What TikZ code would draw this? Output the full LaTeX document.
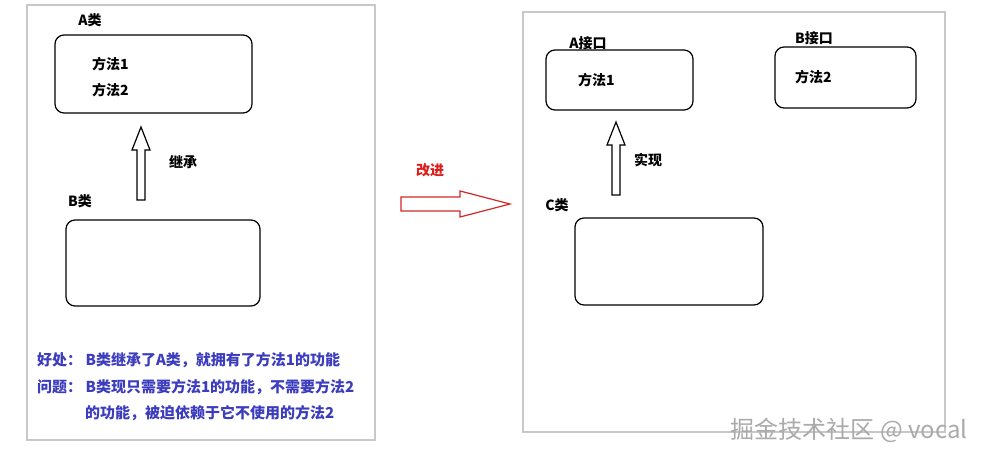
\documentclass[tikz,border=0pt]{standalone}
\usepackage{fontspec}
\setmainfont{Noto Sans CJK SC}
\begin{document}
\begin{tikzpicture}[x=1pt,y=-1pt,
  lbl/.style={font=\bfseries\fontsize{14}{16}\selectfont,inner sep=0pt},
  blue/.style={inner sep=0pt,font=\bfseries\fontsize{15}{17}\selectfont,text={rgb,255:red,60;green,60;blue,190},anchor=west},
  rbox/.style={draw,line width=1.2pt,rounded corners=9pt},
  panel/.style={draw={rgb,255:red,200;green,200;blue,200},line width=1.5pt}]
\useasboundingbox (0,0) rectangle (986,460);
\fill[white] (0,0) rectangle (986,460);
% left panel
\draw[panel] (27,5) rectangle (375,440);
\node[lbl] (la) at (90,20) {A类};
\draw[rbox] (55,35) rectangle (252,113);
\node[lbl,anchor=west] (m1) at (92,64) {方法1};
\node[lbl,anchor=west] (m2) at (92,90) {方法2};
\draw[line width=1.2pt] (137,200) -- (137,150) -- (132,150) -- (141,127) -- (150,150) -- (145,150) -- (145,200) -- cycle;
\node[lbl] (ji) at (183,162) {继承};
\node[lbl] (lb) at (80,201) {B类};
\draw[rbox] (66,220) rectangle (260,306);
\node[blue] (t1) at (37,360) {好处：\ B类继承了A类，就拥有了方法1的功能};
\node[blue] (t2) at (37,387) {问题：\ B类现只需要方法1的功能，不需要方法2};
\node[blue] (t3) at (85,413) {的功能，被迫依赖于它不使用的方法2};
% middle
\node[lbl,text={rgb,255:red,220;green,30;blue,30}] (gj) at (430,170) {改进};
\draw[line width=1.2pt,draw={rgb,255:red,210;green,40;blue,40}] (401,197) -- (460,197) -- (460,191) -- (510,204) -- (460,217) -- (460,211) -- (401,211) -- cycle;
% right panel
\draw[panel] (523,12) rectangle (945,432);
\node[lbl] (ra) at (588,43) {A接口};
\draw[rbox] (546,50) rectangle (693,110);
\node[lbl,anchor=west] (rm1) at (578,80) {方法1};
\node[lbl] (rb) at (814,38) {B接口};
\draw[rbox] (775,47) rectangle (916,108);
\node[lbl,anchor=west] (rm2) at (795,77) {方法2};
\draw[line width=1.2pt] (612,195) -- (612,145) -- (607,145) -- (616,122) -- (625,145) -- (620,145) -- (620,195) -- cycle;
\node[lbl] (sx) at (648,160) {实现};
\node[lbl] (rc) at (557,205) {C类};
\draw[rbox] (575,218) rectangle (763,305);
\node[inner sep=0pt,text={rgb,255:red,170;green,170;blue,170},font=\fontsize{24}{26}\selectfont] (wm) at (849,430) {掘金技术社区 @ vocal};
\end{tikzpicture}
\end{document}
